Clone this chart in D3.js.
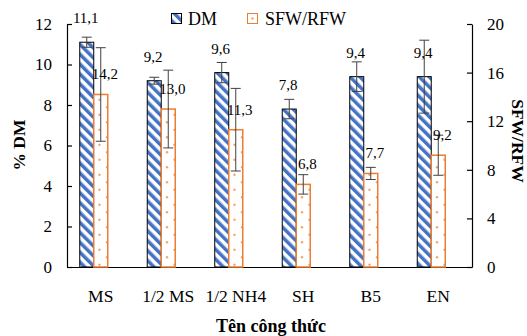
<!DOCTYPE html>
<html><head><meta charset="utf-8">
<script src="https://cdn.jsdelivr.net/npm/d3@7"></script>
<style>body{margin:0;background:#fff}svg{display:block}</style>
</head><body><div id="chart"></div>
<script>
const categories = ["MS","1/2 MS","1/2 NH4","SH","B5","EN"];
const dmValues = [11.1,9.2,9.6,7.8,9.4,9.4];
const dmErrors = [0.25,0.17,0.5,0.48,0.73,1.8];
const sfwValues = [14.2,13.0,11.3,6.8,7.7,9.2];
const sfwErrors = [3.85,3.2,3.4,0.8,0.5,1.65];
const leftTicks = [0,2,4,6,8,10,12];
const rightTicks = [0,4,8,12,16,20];
const seriesNames = ["DM","SFW/RFW"];

const W = 527, H = 336;
const margin = {top:24, right:55, bottom:69, left:67};
const innerW = W - margin.left - margin.right, innerH = H - margin.top - margin.bottom;
const blue = "#4472C4", orange = "#ED7D31", dotCol = "#F4A56C", errCol = "#404040";
const FONT = "'Liberation Serif'";

const svg = d3.select("#chart").append("svg").attr("width", W).attr("height", H);
const defs = svg.append("defs");
const stripe = defs.append("pattern").attr("id","stripe").attr("patternUnits","userSpaceOnUse")
  .attr("width",7).attr("height",7).attr("patternTransform","rotate(-45)");
stripe.append("rect").attr("width",7).attr("height",7).attr("fill","#fff");
stripe.append("rect").attr("width",3.5).attr("height",7).attr("fill",blue);
const dots = defs.append("pattern").attr("id","dots").attr("patternUnits","userSpaceOnUse")
  .attr("width",15).attr("height",15);
dots.append("rect").attr("width",15).attr("height",15).attr("fill","#fff");
dots.append("circle").attr("cx",10).attr("cy",8.3).attr("r",1.2).attr("fill",dotCol);
dots.append("circle").attr("cx",2.5).attr("cy",0.8).attr("r",1.2).attr("fill",dotCol);
dots.append("circle").attr("cx",2.5).attr("cy",15.8).attr("r",1.2).attr("fill",dotCol);

const g = svg.append("g").attr("transform",`translate(${margin.left},${margin.top})`);
const x = d3.scaleBand().domain(categories).range([0, innerW]).padding(0);
const sub = d3.scaleBand().domain(["DM","SFW","empty"]).range([0, x.bandwidth()]).paddingInner(0).paddingOuter(0.91);
const yL = d3.scaleLinear().domain([0,12]).range([innerH,0]);
const yR = d3.scaleLinear().domain([0,20]).range([innerH,0]);
const fmt = v => d3.format(".1f")(v).replace(".", ",");

const data = categories.map((c,i)=>({c, dm:dmValues[i], dmE:dmErrors[i], sfw:sfwValues[i], sfwE:sfwErrors[i]}));

// axes
const axL = g.append("g").call(d3.axisLeft(yL).tickValues(leftTicks).tickSizeInner(-5).tickSizeOuter(0).tickPadding(15));
const axR = g.append("g").attr("transform",`translate(${innerW},0)`)
  .call(d3.axisRight(yR).tickValues(rightTicks).tickSizeInner(-5).tickSizeOuter(0).tickPadding(15));
const axB = g.append("g").attr("transform",`translate(0,${innerH})`)
  .call(d3.axisBottom(x).tickSize(0).tickPadding(23));
[axL,axR,axB].forEach(a=>{
  a.attr("font-family", null).attr("font-size", null);
  a.selectAll("path,line").attr("stroke","#000").attr("stroke-width",1.2);
  a.selectAll("text").style("font-family",FONT).style("font-size","17px").attr("fill","#000");
});
axB.selectAll("text").style("font-size","17.5px");

// bars
const bw = sub.bandwidth();
g.selectAll(".dm").data(data).enter().append("rect")
  .attr("x",d=>x(d.c)+sub("DM")).attr("y",d=>yL(d.dm)).attr("width",bw).attr("height",d=>innerH-yL(d.dm))
  .attr("fill","url(#stripe)").attr("stroke","#000").attr("stroke-width",1);
g.selectAll(".sfw").data(data).enter().append("rect")
  .attr("x",d=>x(d.c)+sub("SFW")).attr("y",d=>yR(d.sfw)).attr("width",bw).attr("height",d=>innerH-yR(d.sfw))
  .attr("fill","url(#dots)").attr("stroke",orange).attr("stroke-width",1.5);

// error bars
function errBars(key, val, err, scale){
  const eg = g.append("g").attr("stroke",errCol).attr("stroke-width",1);
  data.forEach(d=>{
    const cx = x(d.c)+sub(key)+bw/2, y1 = scale(d[val]+d[err]), y0 = scale(d[val]-d[err]);
    eg.append("line").attr("x1",cx).attr("x2",cx).attr("y1",y1).attr("y2",y0);
    eg.append("line").attr("x1",cx-5).attr("x2",cx+5).attr("y1",y1).attr("y2",y1);
    eg.append("line").attr("x1",cx-5).attr("x2",cx+5).attr("y1",y0).attr("y2",y0);
  });
}
errBars("DM","dm","dmE",yL);
errBars("SFW","sfw","sfwE",yR);

// value labels
g.selectAll(".ldm").data(data).enter().append("text")
  .attr("x",d=>x(d.c)+sub("DM")+bw/2-1).attr("y",d=>yL(d.dm)-19)
  .attr("text-anchor","middle").style("font-size","15px").style("font-family",FONT).text(d=>fmt(d.dm));
g.selectAll(".lsfw").data(data).enter().append("text")
  .attr("x",d=>x(d.c)+sub("SFW")+bw/2+4).attr("y",d=>yR(d.sfw)-15)
  .attr("text-anchor","middle").style("font-size","15px").style("font-family",FONT).text(d=>fmt(d.sfw));

// axis titles
svg.append("text").attr("transform","translate(25,145) rotate(-90)").attr("text-anchor","middle")
  .style("font-size","17.5px").style("font-weight","bold").style("font-family",FONT).text("% DM");
svg.append("text").attr("transform","translate(512,141) rotate(90)").attr("text-anchor","middle")
  .style("font-size","17.5px").style("font-weight","bold").style("font-family",FONT).text("SFW/RFW");
svg.append("text").attr("x",271).attr("y",332).attr("text-anchor","middle")
  .style("font-size","18px").style("font-weight","bold").style("font-family",FONT).text("Tên công thức");

// legend
const lg = svg.append("g");
lg.append("rect").attr("x",171.5).attr("y",13.5).attr("width",10).attr("height",10)
  .attr("fill","url(#stripe)").attr("stroke","#000");
lg.append("text").attr("x",188).attr("y",25).style("font-size","18px").style("font-family",FONT).text(seriesNames[0]);
lg.append("rect").attr("x",247.5).attr("y",13.5).attr("width",10).attr("height",10)
  .attr("fill","#fff").attr("stroke",orange);
lg.append("circle").attr("cx",252.5).attr("cy",18.5).attr("r",1.2).attr("fill",dotCol);
lg.append("text").attr("x",265).attr("y",25).style("font-size","18px").style("font-family",FONT).text(seriesNames[1]);
</script></body></html>
